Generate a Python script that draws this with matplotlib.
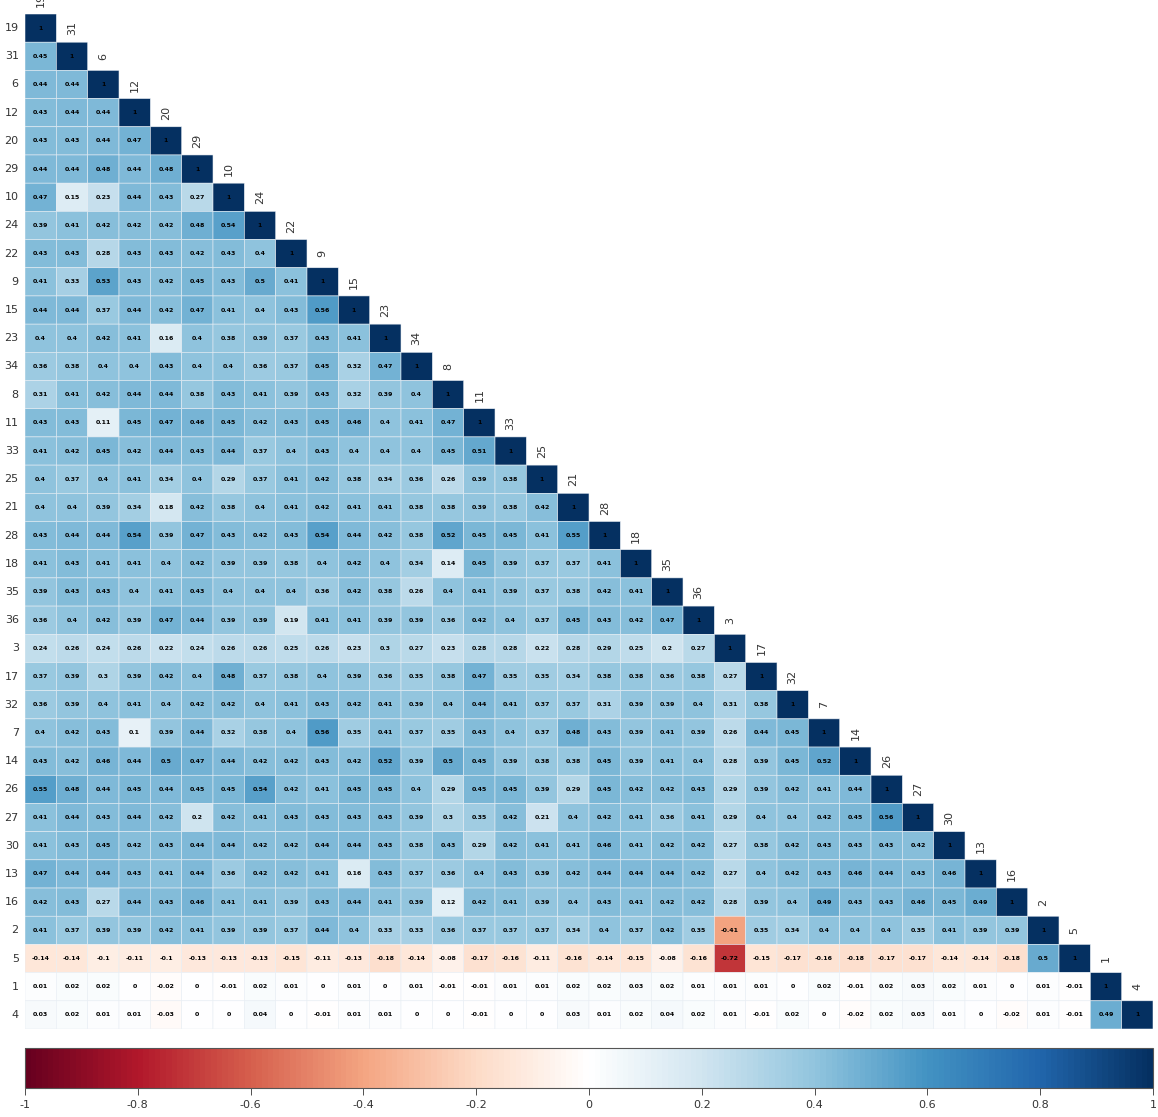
import numpy as np
import matplotlib
matplotlib.use("Agg")
import matplotlib.pyplot as plt
from matplotlib.colors import LinearSegmentedColormap

labels = ["19", "31", "6", "12", "20", "29", "10", "24", "22", "9", "15", "23",
          "34", "8", "11", "33", "25", "21", "28", "18", "35", "36", "3", "17",
          "32", "7", "14", "26", "27", "30", "13", "16", "2", "5", "1", "4"]

# lower triangle, row by row (diagonal = 1 left out)
lower = [
    [],
    [0.45],
    [0.44, 0.44],
    [0.43, 0.44, 0.44],
    [0.43, 0.43, 0.44, 0.47],
    [0.44, 0.44, 0.48, 0.44, 0.48],
    [0.47, 0.15, 0.23, 0.44, 0.43, 0.27],
    [0.39, 0.41, 0.42, 0.42, 0.42, 0.48, 0.54],
    [0.43, 0.43, 0.28, 0.43, 0.43, 0.42, 0.43, 0.4],
    [0.41, 0.33, 0.53, 0.43, 0.42, 0.45, 0.43, 0.5, 0.41],
    [0.44, 0.44, 0.37, 0.44, 0.42, 0.47, 0.41, 0.4, 0.43, 0.56],
    [0.4, 0.4, 0.42, 0.41, 0.16, 0.4, 0.38, 0.39, 0.37, 0.43, 0.41],
    [0.36, 0.38, 0.4, 0.4, 0.43, 0.4, 0.4, 0.36, 0.37, 0.45, 0.32, 0.47],
    [0.31, 0.41, 0.42, 0.44, 0.44, 0.38, 0.43, 0.41, 0.39, 0.43, 0.32, 0.39, 0.4],
    [0.43, 0.43, 0.11, 0.45, 0.47, 0.46, 0.45, 0.42, 0.43, 0.45, 0.46, 0.4, 0.41, 0.47],
    [0.41, 0.42, 0.45, 0.42, 0.44, 0.43, 0.44, 0.37, 0.4, 0.43, 0.4, 0.4, 0.4, 0.45, 0.51],
    [0.4, 0.37, 0.4, 0.41, 0.34, 0.4, 0.29, 0.37, 0.41, 0.42, 0.38, 0.34, 0.36, 0.26, 0.39,
     0.38],
    [0.4, 0.4, 0.39, 0.34, 0.18, 0.42, 0.38, 0.4, 0.41, 0.42, 0.41, 0.41, 0.38, 0.38, 0.39,
     0.38, 0.42],
    [0.43, 0.44, 0.44, 0.54, 0.39, 0.47, 0.43, 0.42, 0.43, 0.54, 0.44, 0.42, 0.38, 0.52, 0.45,
     0.45, 0.41, 0.55],
    [0.41, 0.43, 0.41, 0.41, 0.4, 0.42, 0.39, 0.39, 0.38, 0.4, 0.42, 0.4, 0.34, 0.14, 0.45,
     0.39, 0.37, 0.37, 0.41],
    [0.39, 0.43, 0.43, 0.4, 0.41, 0.43, 0.4, 0.4, 0.4, 0.36, 0.42, 0.38, 0.26, 0.4, 0.41,
     0.39, 0.37, 0.38, 0.42, 0.41],
    [0.36, 0.4, 0.42, 0.39, 0.47, 0.44, 0.39, 0.39, 0.19, 0.41, 0.41, 0.39, 0.39, 0.36, 0.42,
     0.4, 0.37, 0.45, 0.43, 0.42, 0.47],
    [0.24, 0.26, 0.24, 0.26, 0.22, 0.24, 0.26, 0.26, 0.25, 0.26, 0.23, 0.3, 0.27, 0.23, 0.28,
     0.28, 0.22, 0.28, 0.29, 0.25, 0.2, 0.27],
    [0.37, 0.39, 0.3, 0.39, 0.42, 0.4, 0.48, 0.37, 0.38, 0.4, 0.39, 0.36, 0.35, 0.38, 0.47,
     0.35, 0.35, 0.34, 0.38, 0.38, 0.36, 0.38, 0.27],
    [0.36, 0.39, 0.4, 0.41, 0.4, 0.42, 0.42, 0.4, 0.41, 0.43, 0.42, 0.41, 0.39, 0.4, 0.44,
     0.41, 0.37, 0.37, 0.31, 0.39, 0.39, 0.4, 0.31, 0.38],
    [0.4, 0.42, 0.43, 0.1, 0.39, 0.44, 0.32, 0.38, 0.4, 0.56, 0.35, 0.41, 0.37, 0.35, 0.43,
     0.4, 0.37, 0.48, 0.43, 0.39, 0.41, 0.39, 0.26, 0.44, 0.45],
    [0.43, 0.42, 0.46, 0.44, 0.5, 0.47, 0.44, 0.42, 0.42, 0.43, 0.42, 0.52, 0.39, 0.5, 0.45,
     0.39, 0.38, 0.38, 0.45, 0.39, 0.41, 0.4, 0.28, 0.39, 0.45, 0.52],
    [0.55, 0.48, 0.44, 0.45, 0.44, 0.45, 0.45, 0.54, 0.42, 0.41, 0.45, 0.45, 0.4, 0.29, 0.45,
     0.45, 0.39, 0.29, 0.45, 0.42, 0.42, 0.43, 0.29, 0.39, 0.42, 0.41, 0.44],
    [0.41, 0.44, 0.43, 0.44, 0.42, 0.2, 0.42, 0.41, 0.43, 0.43, 0.43, 0.43, 0.39, 0.3, 0.35,
     0.42, 0.21, 0.4, 0.42, 0.41, 0.36, 0.41, 0.29, 0.4, 0.4, 0.42, 0.45, 0.56],
    [0.41, 0.43, 0.45, 0.42, 0.43, 0.44, 0.44, 0.42, 0.42, 0.44, 0.44, 0.43, 0.38, 0.43, 0.29,
     0.42, 0.41, 0.41, 0.46, 0.41, 0.42, 0.42, 0.27, 0.38, 0.42, 0.43, 0.43, 0.43, 0.42],
    [0.47, 0.44, 0.44, 0.43, 0.41, 0.44, 0.36, 0.42, 0.42, 0.41, 0.16, 0.43, 0.37, 0.36, 0.4,
     0.43, 0.39, 0.42, 0.44, 0.44, 0.44, 0.42, 0.27, 0.4, 0.42, 0.43, 0.46, 0.44, 0.43, 0.46],
    [0.42, 0.43, 0.27, 0.44, 0.43, 0.46, 0.41, 0.41, 0.39, 0.43, 0.44, 0.41, 0.39, 0.12, 0.42,
     0.41, 0.39, 0.4, 0.43, 0.41, 0.42, 0.42, 0.28, 0.39, 0.4, 0.49, 0.43, 0.43, 0.46, 0.45,
     0.49],
    [0.41, 0.37, 0.39, 0.39, 0.42, 0.41, 0.39, 0.39, 0.37, 0.44, 0.4, 0.33, 0.33, 0.36, 0.37,
     0.37, 0.37, 0.34, 0.4, 0.37, 0.42, 0.35, -0.41, 0.35, 0.34, 0.4, 0.4, 0.4, 0.35, 0.41,
     0.39, 0.39],
    [-0.14, -0.14, -0.1, -0.11, -0.1, -0.13, -0.13, -0.13, -0.15, -0.11, -0.13, -0.18, -0.14,
     -0.08, -0.17, -0.16, -0.11, -0.16, -0.14, -0.15, -0.08, -0.16, -0.72, -0.15, -0.17,
     -0.16, -0.18, -0.17, -0.17, -0.14, -0.14, -0.18, 0.5],
    [0.01, 0.02, 0.02, 0, -0.02, 0, -0.01, 0.02, 0.01, 0, 0.01, 0, 0.01, -0.01, -0.01, 0.01,
     0.01, 0.02, 0.02, 0.03, 0.02, 0.01, 0.01, 0.01, 0, 0.02, -0.01, 0.02, 0.03, 0.02, 0.01,
     0, 0.01, -0.01],
    [0.03, 0.02, 0.01, 0.01, -0.03, 0, 0, 0.04, 0, -0.01, 0.01, 0.01, 0, 0, -0.01, 0, 0,
     0.03, 0.01, 0.02, 0.04, 0.02, 0.01, -0.01, 0.02, 0, -0.02, 0.02, 0.03, 0.01, 0, -0.02,
     0.01, -0.01, 0.49],
]

n = len(labels)
M = np.full((n, n), np.nan)
for i, row in enumerate(lower):
    for j, v in enumerate(row):
        M[i, j] = v
    M[i, i] = 1.0

cmap = LinearSegmentedColormap.from_list("corr", [
    "#67001F", "#B2182B", "#D6604D", "#F4A582", "#FDDBC7", "#FFFFFF",
    "#D1E5F0", "#92C5DE", "#4393C3", "#2166AC", "#053061"], N=200)

fig = plt.figure(figsize=(11.58, 11.17), dpi=100)
ax = fig.add_axes([25 / 1158, 1 - 1029 / 1117, 1128 / 1158, 1015 / 1117])
# pcolor skips the masked (upper) cells, so no grid shows there
mesh = ax.pcolor(np.ma.masked_invalid(M), cmap=cmap, vmin=-1, vmax=1,
                 edgecolors="#e8eef4", linewidth=0.4)
ax.set_xlim(0, n)
ax.set_ylim(n, 0)
ax.axis("off")

for i in range(n):
    for j in range(i + 1):
        v = M[i, j]
        txt = "1" if i == j else f"{v:g}"
        ax.text(j + 0.5, i + 0.5, txt, ha="center", va="center",
                fontsize=4.5, fontweight="bold", color="black")
    # row label on the left, column label above the diagonal cell
    ax.text(-0.2, i + 0.5, labels[i], ha="right", va="center", fontsize=8,
            color="#333333", clip_on=False)
    ax.text(i + 0.5, i - 0.5, labels[i], ha="center", va="center", fontsize=8,
            rotation=90, color="#333333", clip_on=False)

cax = fig.add_axes([25 / 1158, 1 - 1088 / 1117, 1128 / 1158, 40 / 1117])
cb = fig.colorbar(mesh, cax=cax, orientation="horizontal")
cb.set_ticks(np.round(np.arange(-1, 1.01, 0.2), 1))
cb.set_ticklabels(["-1", "-0.8", "-0.6", "-0.4", "-0.2", "0", "0.2", "0.4", "0.6", "0.8", "1"])
cb.ax.tick_params(labelsize=8, length=5, width=0.6, colors="#333333")
cb.outline.set_linewidth(0.8)
cb.outline.set_edgecolor("#555555")

fig.savefig("out.png", dpi=100)
